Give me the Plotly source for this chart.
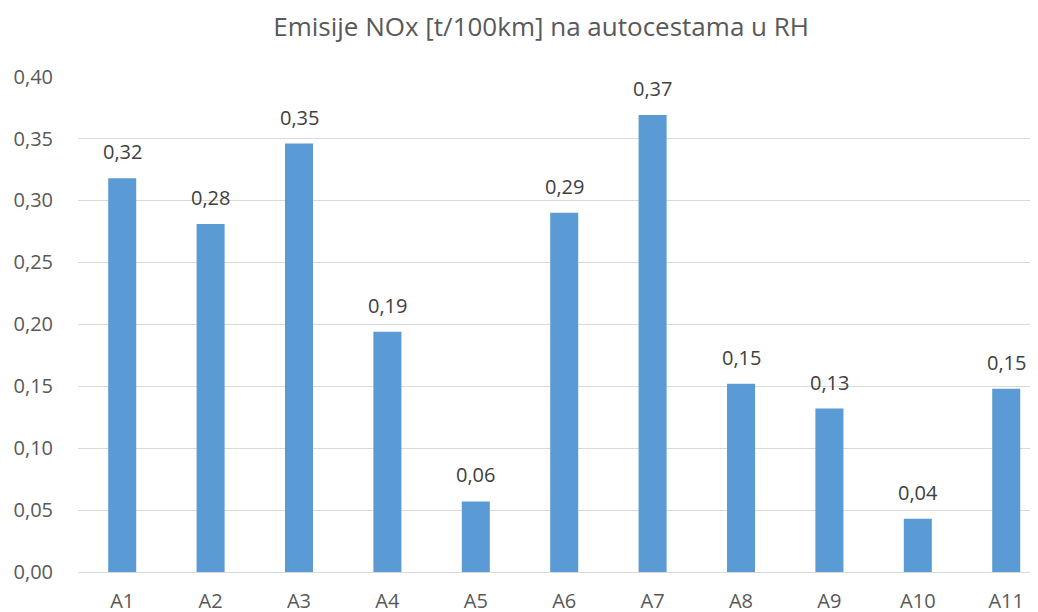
import plotly.graph_objects as go

categories = ["A1", "A2", "A3", "A4", "A5", "A6", "A7", "A8", "A9", "A10", "A11"]
values = [0.318, 0.281, 0.346, 0.194, 0.057, 0.290, 0.369, 0.152, 0.132, 0.043, 0.148]
title_text = "Emisije NOx [t/100km] na autocestama u RH"

FONT = "'Open Sans', sans-serif"
fig = go.Figure(
    go.Bar(
        x=categories,
        y=values,
        marker=dict(color="#5B9BD5", line=dict(width=0)),
        width=0.317,
        cliponaxis=False,
        hovertemplate="%{x}: %{y:.2f}<extra></extra>",
    )
)
for c, v in zip(categories, values):
    fig.add_annotation(
        x=c, y=v, text=f"{v:.2f}".replace(".", ","),
        showarrow=False, xanchor="center", yanchor="bottom", yshift=11,
        font=dict(family=FONT, size=20, color="#404040"),
    )
fig.update_layout(
    template="none",
    width=1038,
    height=612,
    separators=",.",
    paper_bgcolor="white",
    plot_bgcolor="white",
    margin=dict(l=70, r=0, t=68, b=48, autoexpand=False),
    title=dict(text=title_text, x=0.5136, xanchor="center", y=0.969, yanchor="middle",
               font=dict(family=FONT, size=26, color="#595959")),
    showlegend=False,
    xaxis=dict(range=[-0.5, 10.45], showgrid=False, showline=False, ticks="outside",
               ticklen=11, tickcolor="rgba(0,0,0,0)", automargin=False,
               tickfont=dict(family=FONT, size=20, color="#595959")),
    yaxis=dict(range=[0, 0.4005], dtick=0.05, tickformat=".2f", showgrid=True,
               gridcolor="#D9D9D9", gridwidth=1, zeroline=True, zerolinecolor="#D9D9D9",
               zerolinewidth=1, showline=False, ticks="outside", ticklen=20,
               tickcolor="rgba(0,0,0,0)", automargin=False,
               tickfont=dict(family=FONT, size=20, color="#595959")),
)
fig.write_html("out.html", config={"displayModeBar": False})
